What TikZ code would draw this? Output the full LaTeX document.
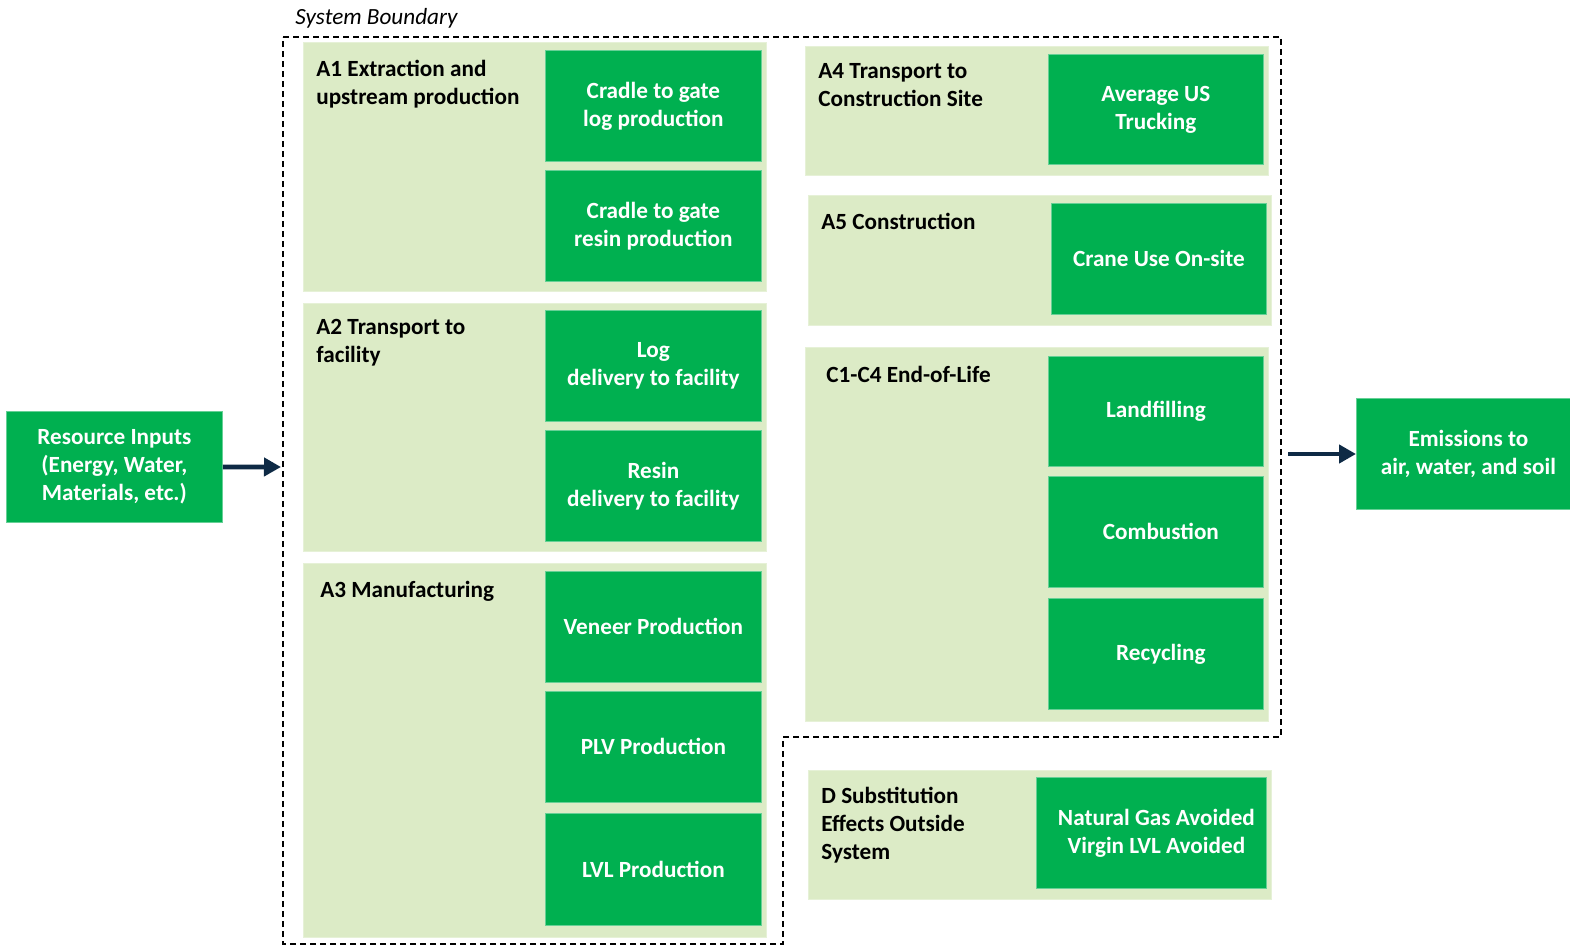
\documentclass[tikz,border=0pt]{standalone}
\usepackage{fontspec}
\setmainfont{Carlito}
\usetikzlibrary{positioning,arrows.meta}
\definecolor{stageGreen}{HTML}{00B050}
\definecolor{panelGreen}{HTML}{DCEBC6}
\definecolor{arrowNavy}{HTML}{0E2A45}
\tikzstyle{panelStyle} = [fill=panelGreen, draw=panelGreen!70!white, line width=0.4pt, inner sep=0, anchor=north west]
\tikzstyle{stageStyle} = [fill=stageGreen, draw=stageGreen!60!white, line width=0.4pt, text=white, font=\bfseries\fontsize{11.6}{14}\selectfont, align=center, inner sep=0, anchor=north west]
\tikzstyle{labelStyle} = [font=\bfseries\fontsize{11.6}{14}\selectfont, align=left, inner sep=0, anchor=north west]
\tikzstyle{flowArrow} = [draw=arrowNavy, line width=2.4pt, -{Triangle[length=8.5pt,width=9pt]}]
\tikzstyle{boundaryLine} = [black, line width=0.6pt, dash pattern=on 3pt off 2pt]
\newcommand{\panelBox}[5]{\node [panelStyle, minimum width=#4*0.5pt, minimum height=#5*0.5pt] (#1) at (#2,#3) {};}
\newcommand{\stageBox}[6]{\node [stageStyle, minimum width=#4*0.5pt, minimum height=#5*0.5pt] (#1) at (#2,#3) {#6};}
\newcommand{\panelLabel}[4]{\node [labelStyle] (#1) at (#2,#3) {#4};}
\begin{document}
\begin{tikzpicture}[x=0.5pt, y=-0.5pt]
\useasboundingbox (0,0) rectangle (1570,947);
% system boundary
\node [font=\itshape\fontsize{11.6}{14}\selectfont, inner sep=0, anchor=west] (sysLabel) at (295,18) {System Boundary};
\draw [boundaryLine] (283,37) -- (1281,37) -- (1281,737) -- (783,737) -- (783,944) -- (283,944) -- cycle;
% left column
\panelBox{a1Panel}{303}{42}{463}{249}
\stageBox{a1Log}{545}{50}{216}{111}{Cradle to gate\\log production}
\stageBox{a1Resin}{545}{170}{216}{111}{Cradle to gate\\resin production}
\panelLabel{a1Label}{316}{60}{A1 Extraction and\\upstream production}
\panelBox{a2Panel}{303}{303}{463}{248}
\stageBox{a2Log}{545}{310}{216}{111}{Log\\delivery to facility}
\stageBox{a2Resin}{545}{430}{216}{111}{Resin\\delivery to facility}
\panelLabel{a2Label}{316}{319}{A2 Transport to\\facility}
\panelBox{a3Panel}{303}{563}{463}{374}
\stageBox{a3Veneer}{545}{571}{216}{111}{Veneer Production}
\stageBox{a3Plv}{545}{691}{216}{111}{PLV Production}
\stageBox{a3Lvl}{545}{813}{216}{112}{LVL Production}
\panelLabel{a3Label}{320}{581}{A3 Manufacturing}
% right column
\panelBox{a4Panel}{805}{46}{463}{129}
\stageBox{a4Truck}{1048}{54}{215}{110}{Average US\\Trucking}
\panelLabel{a4Label}{818}{63}{A4 Transport to\\Construction Site}
\panelBox{a5Panel}{808}{195}{463}{130}
\stageBox{a5Crane}{1051}{203}{215}{111}{Crane Use On-site}
\panelLabel{a5Label}{821}{213}{A5 Construction}
\panelBox{eolPanel}{805}{347}{463}{374}
\stageBox{eolLand}{1048}{356}{215}{110}{Landfilling}
\stageBox{eolComb}{1048}{476}{215}{111}{\hspace*{5pt}Combustion}
\stageBox{eolRecy}{1048}{598}{215}{111}{\hspace*{5pt}Recycling}
\panelLabel{eolLabel}{826}{366}{C1-C4 End-of-Life}
\panelBox{dPanel}{808}{770}{463}{129}
\stageBox{dAvoided}{1036}{777}{230}{111}{\hspace*{5pt}Natural Gas Avoided\\\hspace*{5pt}Virgin LVL Avoided}
\panelLabel{dLabel}{821}{787}{D Substitution\\Effects Outside\\System}
% inputs and outputs
\stageBox{inputs}{6}{411}{216}{111}{Resource Inputs\\(Energy, Water,\\Materials, etc.)}
\stageBox{emissions}{1356}{398}{214}{111}{\hspace*{5pt}Emissions to\\\hspace*{5pt}air, water, and soil}
\coordinate (inEnd) at (281,467);
\coordinate (outStart) at (1288,454);
\draw [flowArrow] (inputs.east) -- (inEnd);
\draw [flowArrow] (outStart) -- (emissions.west |- outStart);
\end{tikzpicture}
\end{document}
